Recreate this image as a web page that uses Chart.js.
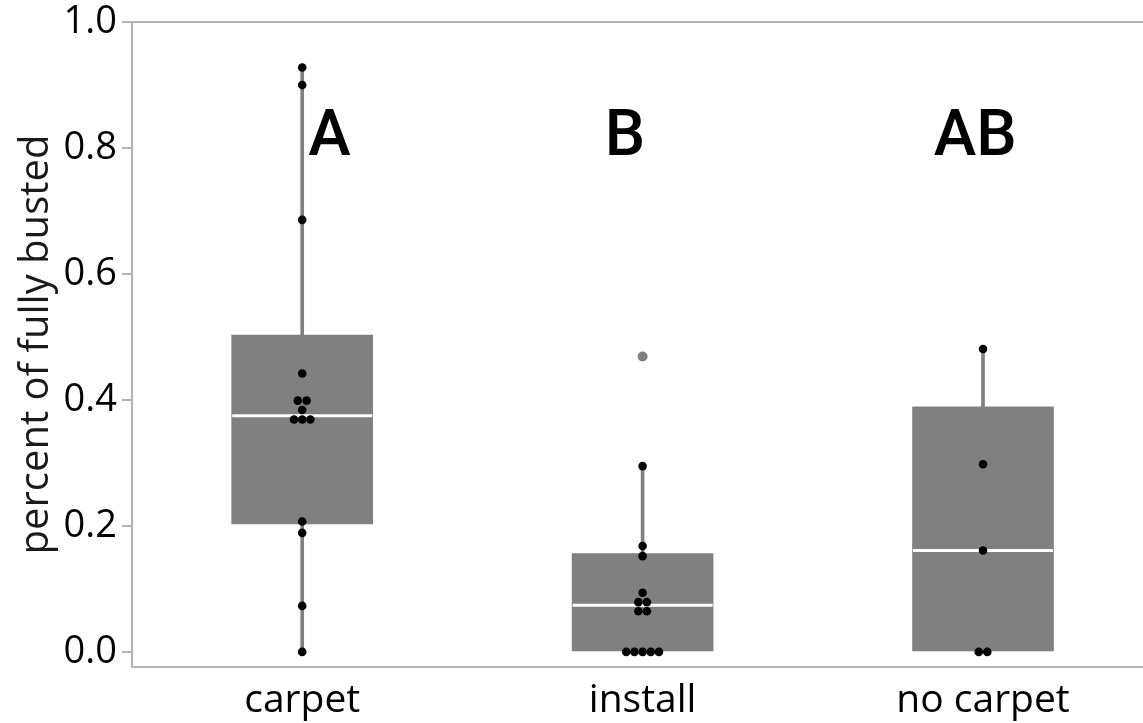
<!DOCTYPE html>
<html lang="en">
<head>
    <meta charset="UTF-8">
    <title>percent of fully busted</title>
    <script src="https://cdn.jsdelivr.net/npm/chart.js@4.4.1/dist/chart.umd.min.js"></script>
    <style>
        html, body {
            margin: 0;
            padding: 0;
            background: #fff;
        }
        .chart-box {
            position: relative;
            width: 1143px;
            height: 723px;
        }
    </style>
</head>
<body>
    <div class="chart-box">
        <canvas id="chart"></canvas>
    </div>

    <script>
        // categories and box statistics
        const categories = ['carpet', 'install', 'no carpet'];
        const boxLow = [0.203, 0.0, 0.0];
        const boxHigh = [0.503, 0.156, 0.389];
        const medians = [0.375, 0.074, 0.161];
        const whiskerLow = [0.0, 0.156, 0.0];
        const whiskerHigh = [0.927, 0.295, 0.481];

        // significance letters (x in category units, y = baseline value)
        const letters = ['A', 'B', 'AB'];
        const letterX = [0.08, 0.948, 1.977];
        const letterY = [0.789, 0.789, 0.789];

        // raw observations, x = small offset from the category centre
        const carpetY = [0.928, 0.900, 0.686, 0.442, 0.399, 0.399, 0.384, 0.369, 0.369, 0.369, 0.207, 0.189, 0.073, 0.0];
        const carpetX = [0, 0, 0, 0, -0.013, 0.013, 0, -0.024, 0, 0.024, 0, 0, 0, 0];
        const installY = [0.295, 0.168, 0.152, 0.094, 0.079, 0.079, 0.0645, 0.0645, 0.0, 0.0, 0.0, 0.0, 0.0];
        const installX = [0, 0, 0, 0, -0.0125, 0.0125, -0.0125, 0.0125, -0.048, -0.024, 0, 0.024, 0.048];
        const noCarpetY = [0.481, 0.298, 0.161, 0.0, 0.0];
        const noCarpetX = [0, 0, 0, -0.0125, 0.0125];

        // outlier marker
        const outlierCat = [1];
        const outlierY = [0.469];

        const yTicks = [0.0, 0.2, 0.4, 0.6, 0.8, 1.0];

        const FONT = '"Open Sans", "Noto Sans", sans-serif';
        const AXIS_GREY = '#b4b4b4';

        function pointsFor(index, offsets, values) {
            return values.map((v, i) => ({ x: index + offsets[i], y: v }));
        }

        const observations = []
            .concat(pointsFor(0, carpetX, carpetY))
            .concat(pointsFor(1, installX, installY))
            .concat(pointsFor(2, noCarpetX, noCarpetY));

        // draws the A / B / AB letters
        const letterPlugin = {
            id: 'groupLetters',
            afterDatasetsDraw(chart) {
                const ctx = chart.ctx;
                const x = chart.scales.x;
                const y = chart.scales.y;
                ctx.save();
                ctx.font = '500 64px Roboto, sans-serif';
                ctx.fillStyle = '#000';
                ctx.textAlign = 'center';
                ctx.textBaseline = 'alphabetic';
                letters.forEach((t, i) => {
                    ctx.fillText(t, x.getPixelForValue(letterX[i]), y.getPixelForValue(letterY[i]));
                });
                ctx.restore();
            }
        };

        const ctx = document.getElementById('chart').getContext('2d');

        new Chart(ctx, {
            type: 'bar',
            data: {
                datasets: [
                    {
                        type: 'bar',
                        label: 'whisker',
                        data: categories.map((c, i) => ({ x: i, y: [whiskerLow[i], whiskerHigh[i]] })),
                        backgroundColor: '#808080',
                        barThickness: 3,
                        grouped: false,
                        order: 4
                    },
                    {
                        type: 'bar',
                        label: 'box',
                        data: categories.map((c, i) => ({ x: i, y: [boxLow[i], boxHigh[i]] })),
                        backgroundColor: '#808080',
                        borderWidth: 0,
                        barThickness: 141,
                        grouped: false,
                        order: 3
                    },
                    {
                        type: 'scatter',
                        label: 'median',
                        data: categories.map((c, i) => ({ x: i, y: medians[i] })),
                        pointStyle: 'line',
                        pointRadius: 70,
                        pointBorderColor: '#ffffff',
                        pointBorderWidth: 3,
                        order: 2
                    },
                    {
                        type: 'scatter',
                        label: 'outlier',
                        data: outlierCat.map((c, i) => ({ x: c, y: outlierY[i] })),
                        pointRadius: 5,
                        pointBackgroundColor: '#7f7f7f',
                        pointBorderWidth: 0,
                        order: 1
                    },
                    {
                        type: 'scatter',
                        label: 'observations',
                        data: observations,
                        pointRadius: 4.3,
                        pointBackgroundColor: '#000',
                        pointBorderWidth: 0,
                        order: 0
                    }
                ]
            },
            options: {
                responsive: true,
                maintainAspectRatio: false,
                animation: false,
                events: [],
                layout: { padding: 0, autoPadding: false },
                plugins: {
                    legend: { display: false },
                    tooltip: { enabled: false }
                },
                scales: {
                    x: {
                        type: 'linear',
                        min: -0.5,
                        max: 2.47,
                        offset: false,
                        afterBuildTicks: s => { s.ticks = categories.map((c, i) => ({ value: i })); },
                        afterFit: s => { s.height = 56; },
                        ticks: {
                            callback: (v, i) => categories[i],
                            font: { family: FONT, size: 39, lineHeight: 1.1 },
                            color: '#000',
                            padding: 12,
                            maxRotation: 0,
                            autoSkip: false
                        },
                        grid: { display: false, drawTicks: false, offset: false },
                        border: { color: AXIS_GREY, width: 2 }
                    },
                    x2: {
                        type: 'linear',
                        position: 'top',
                        min: -0.5,
                        max: 2.47,
                        offset: false,
                        afterFit: s => { s.height = 0; },
                        ticks: { display: false },
                        grid: { display: false, drawTicks: false },
                        border: { color: AXIS_GREY, width: 2 }
                    },
                    y: {
                        min: -0.024,
                        max: 1.0,
                        afterBuildTicks: s => { s.ticks = yTicks.map(v => ({ value: v })); },
                        afterFit: s => { s.width = 132; },
                        ticks: {
                            callback: v => v.toFixed(1),
                            font: { family: FONT, size: 38, lineHeight: 0.9 },
                            color: '#000',
                            padding: 5
                        },
                        grid: { drawOnChartArea: false, tickLength: 10, color: AXIS_GREY, lineWidth: 2 },
                        border: { color: AXIS_GREY, width: 2 },
                        title: {
                            display: true,
                            text: 'percent of fully busted',
                            font: { family: FONT, size: 40 },
                            color: '#1a1a1a',
                            padding: { top: 13, bottom: 0 }
                        }
                    }
                }
            },
            plugins: [letterPlugin]
        });
    </script>
</body>
</html>
